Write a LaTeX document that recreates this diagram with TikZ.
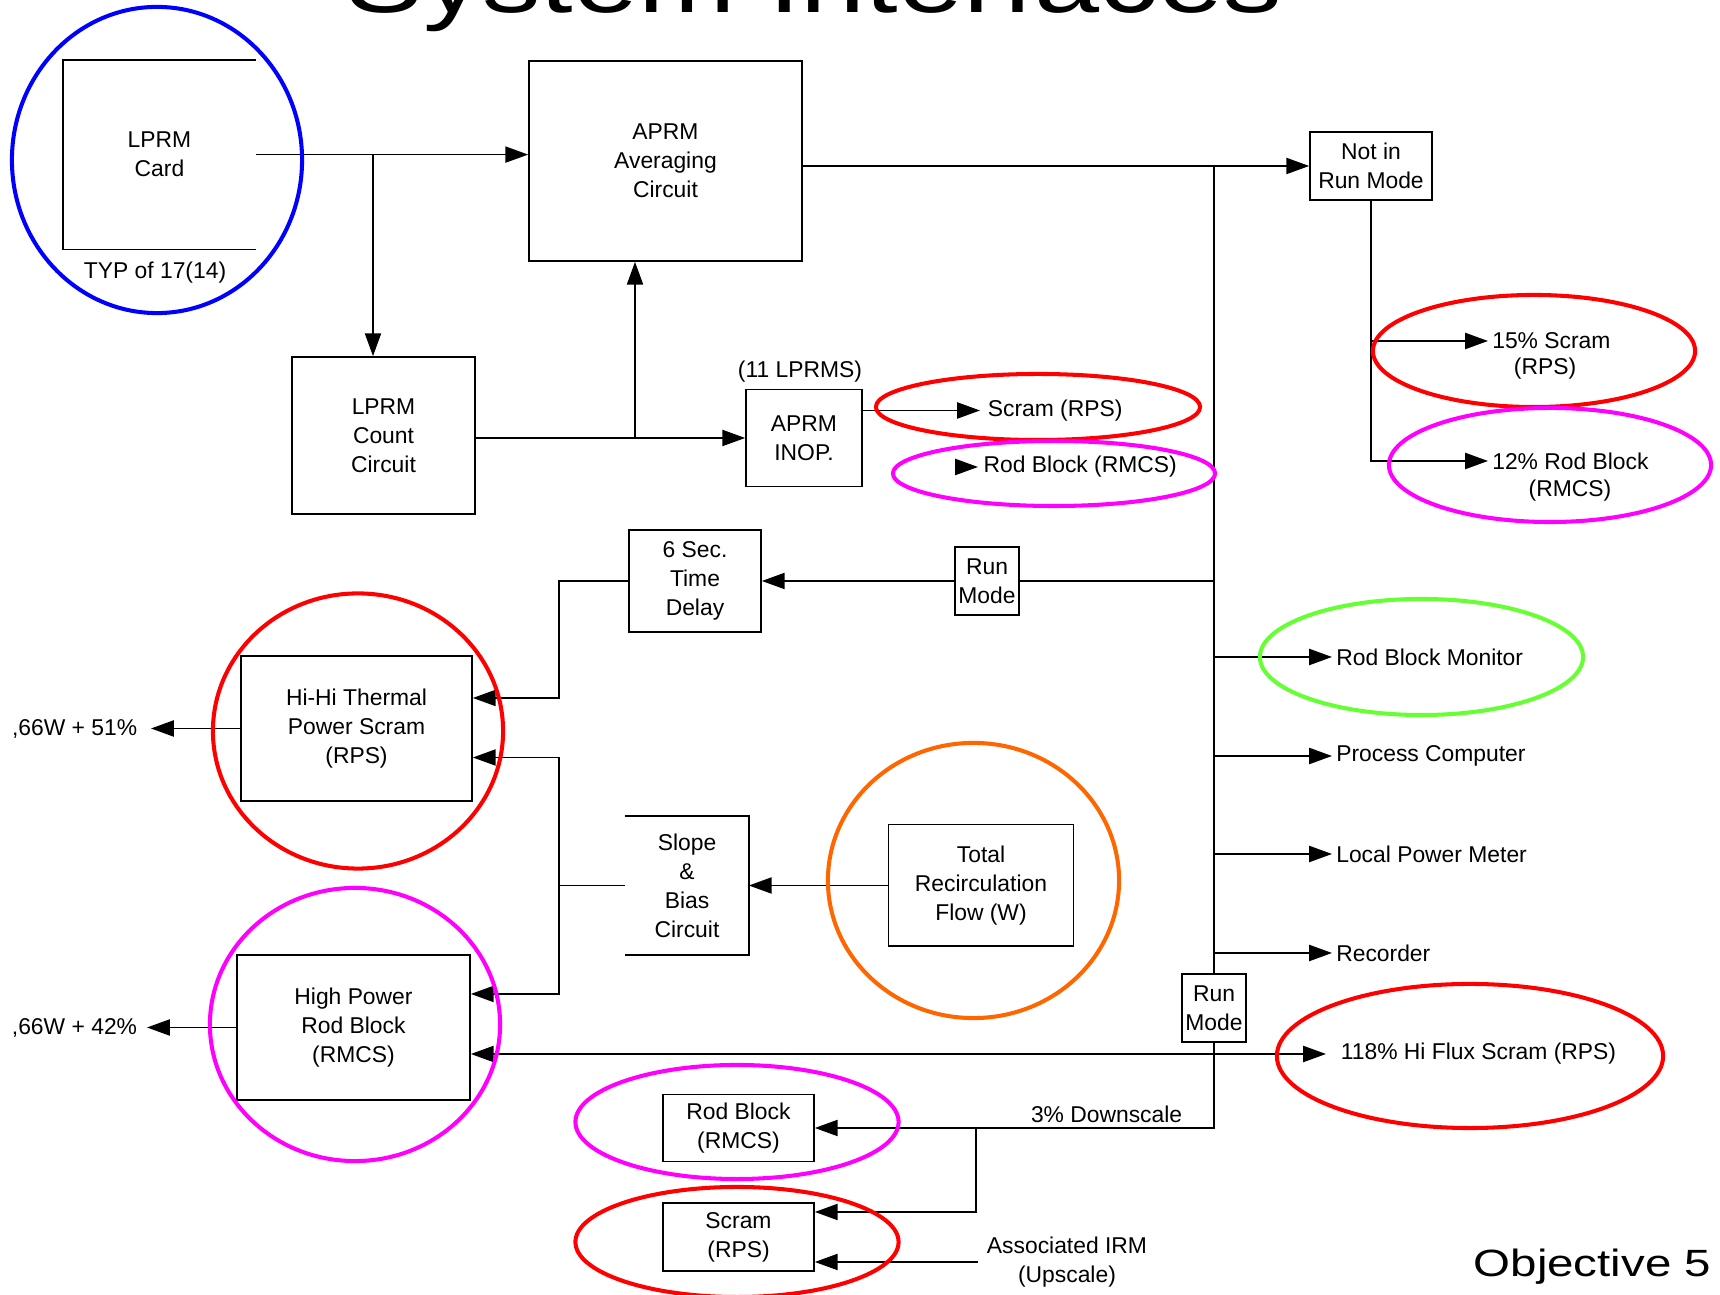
\documentclass[tikz,border=0pt]{standalone}
\usepackage{graphicx}
\usepackage{fontspec}
\setmainfont{Liberation Sans}
\usetikzlibrary{arrows.meta,positioning}
\definecolor{ringblue}{RGB}{0,0,255}
\definecolor{ringred}{RGB}{255,0,0}
\definecolor{ringmagenta}{RGB}{255,0,255}
\definecolor{ringgreen}{RGB}{102,255,51}
\definecolor{ringorange}{RGB}{255,102,0}

\begin{document}
\begin{tikzpicture}[x=0.01cm,y=-0.01cm,>={Triangle[length=6.5pt,width=4.6pt]},
                    line width=0.45pt,font=\fontsize{6.5}{8.25}\selectfont,
                    box/.style={draw,align=center,inner sep=0pt},
                    openbox/.style={align=center,inner sep=0pt},
                    lbl/.style={align=center,inner xsep=1pt,inner ysep=0pt},
                    ring/.style={line width=1.15pt}]

 \useasboundingbox (0,0) rectangle (1720,1295);

 \node (title) [anchor=base west,inner sep=0pt,font=\fontsize{26.4}{30}\selectfont] at (345,13) {\scalebox{1.26}[1]{System Interfaces}};
 \node (obj) [anchor=base east,inner sep=0pt,font=\fontsize{10.8}{13}\selectfont] at (1712,1277) {\scalebox{1.25}[1]{Objective 5}};

 \node[openbox,minimum width=1.91cm,minimum height=1.88cm] (card) at (159.5,154.6) {LPRM\\Card};
 \node[lbl] (typ) at (155,273) {TYP of 17(14)};
 \node[box,minimum width=2.73cm,minimum height=2.00cm] (aprm) at (665.5,161) {APRM\\Averaging\\Circuit};
 \node[box,minimum width=1.83cm,minimum height=1.57cm] (count) at (383.5,435.5) {LPRM\\Count\\Circuit};
 \node[box,minimum width=1.16cm,minimum height=0.97cm] (inop) at (804,438) {APRM\\INOP.};
 \node[lbl] (lprms) at (800,372) {(11 LPRMS)};
 \node[box,minimum width=1.22cm,minimum height=0.685cm] (notrun) at (1371,166) {Not in\\Run Mode};
 \node[box,minimum width=1.32cm,minimum height=1.02cm] (delay) at (695,581) {6 Sec.\\Time\\Delay};
 \node[box,minimum width=0.64cm,minimum height=0.68cm] (runa) at (987,581) {Run\\Mode};
 \node[box,minimum width=2.31cm,minimum height=1.45cm] (thermal) at (356.5,728.5) {Hi-Hi Thermal\\Power Scram\\(RPS)};
 \node[openbox,minimum width=1.22cm,minimum height=1.37cm] (slope) at (687,885.5) {Slope\\\&\\Bias\\Circuit};
 \node[box,minimum width=1.845cm,minimum height=1.215cm] (flow) at (981,885.5) {Total\\Recirculation\\Flow (W)};
 \node[box,minimum width=2.33cm,minimum height=1.45cm] (hipower) at (353.5,1027.5) {High Power\\Rod Block\\(RMCS)};
 \node[box,minimum width=0.64cm,minimum height=0.68cm] (runb) at (1214,1008) {Run\\Mode};
 \node[box,minimum width=1.51cm,minimum height=0.67cm] (rodblk) at (738.5,1128) {Rod Block\\(RMCS)};
 \node[box,minimum width=1.51cm,minimum height=0.68cm] (scram) at (738.5,1237) {Scram\\(RPS)};

 \node[lbl,anchor=west,inner xsep=2pt] (scr) at (980,410.5) {Scram (RPS)};
 \node[lbl,anchor=west,inner xsep=1.4pt] (rbk) at (978,467) {Rod Block (RMCS)};
 \node[lbl,anchor=west] (s15) at (1488,341) {15\% Scram};
 \node[lbl] (s15b) at (1545,369) {(RPS)};
 \node[lbl,anchor=west] (s12) at (1488,461) {12\% Rod Block};
 \node[lbl] (s12b) at (1570,491) {(RMCS)};
 \node[lbl,anchor=west] (rbm) at (1332,657) {Rod Block Monitor};
 \node[lbl,anchor=west] (pc) at (1332,756) {Process Computer};
 \node[lbl,anchor=west] (lpm) at (1332,854) {Local Power Meter};
 \node[lbl,anchor=west] (rec) at (1332,953) {Recorder};
 \node[lbl,anchor=west,inner xsep=4pt] (hiflux) at (1326,1054) {118\% Hi Flux Scram (RPS)};
 \node[lbl,anchor=east,inner xsep=3.7pt] (o51) at (151,728.5) {,66W + 51\%};
 \node[lbl,anchor=east,inner xsep=2.6pt] (o42) at (147,1027.5) {,66W + 42\%};
 \node[lbl,anchor=south east,inner sep=0pt] (ds) at (1183,1124) {3\% Downscale};
 \node[lbl,inner xsep=2.3pt] (irm) at (1067,1262) {Associated IRM\\(Upscale)};

 \coordinate (j1) at (373,154.6);
 \coordinate (j2) at (635,438);
 \coordinate (j4) at (976,1128);
 \coordinate (bus) at (notrun.west -| runb.north);

 \draw (card.north east) -- (card.north west) -- (card.south west) -- (card.south east);
 \draw (slope.north west) -- (slope.north east) -- (slope.south east) -- (slope.south west);

 \draw[->] (card.east) -- (card.east -| aprm.west);
 \draw[->] (j1) -- (j1 |- count.north);
 \draw[->] (count.east |- inop.west) -- (inop.west);
 \draw[->] (j2) -- (j2 |- aprm.south);
 \draw[->] (inop.east |- scr.west) -- (scr.west);
 \draw[->] ([xshift=-0.23cm]rbk.west) -- (rbk.west);
 \draw[->] (aprm.east |- notrun.west) -- (notrun.west);
 \draw[->] (notrun.south) |- (s12.west);
 \draw[->] (notrun.south |- s15.west) -- (s15.west);

 \draw (bus) -- (runb.north);
 \draw[->] (runb.south) |- (rodblk.east);
 \draw[->] (j4) |- ([yshift=0.25cm]scram.east);
 \draw[->] (irm.west) -- (irm.west -| scram.east);
 \draw (runa.east -| bus) -- (runa.east);
 \draw[->] (runa.west) -- (delay.east);
 \draw[->] (delay.west) -- ++(-69,0) |- ([yshift=0.305cm]thermal.east);
 \draw[->] (slope.west) -- ++(-66,0) |- ([yshift=-0.29cm]thermal.east);
 \draw[->] (slope.west) -- ++(-66,0) |- ([yshift=0.335cm]hipower.east);
 \draw[->] (flow.west) -- (slope.east);
 \draw[->] (thermal.west) -- (o51.east);
 \draw[->] (hipower.west) -- (o42.east);
 \draw[<->] (hipower.east |- hiflux.west) -- (hiflux.west);
 \draw[->] (rbm.west -| bus) -- (rbm.west);
 \draw[->] (pc.west -| bus) -- (pc.west);
 \draw[->] (lpm.west -| bus) -- (lpm.west);
 \draw[->] (rec.west -| bus) -- (rec.west);

 \draw[ring,ringblue] (157,160) ellipse [x radius=1.45cm,y radius=1.53cm];
 \draw[ring,ringred] (358,731) ellipse [x radius=1.45cm,y radius=1.375cm];
 \draw[ring,ringmagenta] (355,1024.5) ellipse [x radius=1.45cm,y radius=1.365cm];
 \draw[ring,ringred] (1534,351) ellipse [x radius=1.61cm,y radius=0.56cm];
 \draw[ring,ringmagenta] (1550,465) ellipse [x radius=1.61cm,y radius=0.57cm];
 \draw[ring,ringred] (1038,407) ellipse [x radius=1.62cm,y radius=0.33cm];
 \draw[ring,ringmagenta] (1054,473.5) ellipse [x radius=1.61cm,y radius=0.325cm];
 \draw[ring,ringgreen] (1421.5,657) ellipse [x radius=1.615cm,y radius=0.58cm];
 \draw[ring,ringorange] (973.5,880.5) ellipse [x radius=1.455cm,y radius=1.375cm];
 \draw[ring,ringred] (1470,1056) ellipse [x radius=1.93cm,y radius=0.72cm];
 \draw[ring,ringmagenta] (737,1122) ellipse [x radius=1.615cm,y radius=0.57cm];
 \draw[ring,ringred] (737,1242) ellipse [x radius=1.615cm,y radius=0.55cm];

\end{tikzpicture}
\end{document}
